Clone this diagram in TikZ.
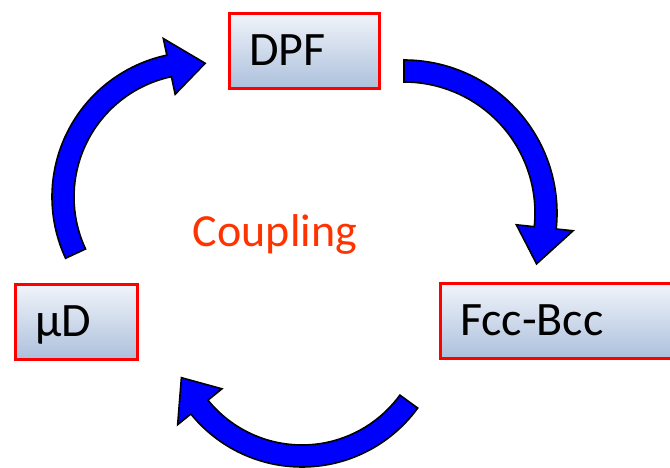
\documentclass[tikz,border=0pt]{standalone}
\usepackage{fontspec}
\setmainfont{Carlito}
\usetikzlibrary{calc}

\definecolor{boxred}{RGB}{255,0,0}
\definecolor{boxtop}{RGB}{241,244,250}
\definecolor{boxbottom}{RGB}{172,192,220}
\definecolor{arrowblue}{RGB}{0,0,255}
\definecolor{couplingred}{RGB}{255,51,0}

% fat circular arrow: centre, outer radius, start angle, end angle, tip angle
\newcommand{\cyclearrow}[5]{%
  \filldraw[flowarrow] ($(#1)+(#3:#2)$) arc[start angle=#3, end angle=#4, radius=#2]
    -- ($(#1)+(#4:{#2+17})$) -- ($(#1)+(#5:{#2-11})$) -- ($(#1)+(#4:{#2-40})$)
    -- ($(#1)+(#4:{#2-22})$) arc[start angle=#4, end angle=#3, radius={#2-22}] -- cycle;}

\begin{document}
\begin{tikzpicture}[x=1pt,y=1pt,
    phase/.style={draw=boxred,line width=3pt,top color=boxtop,bottom color=boxbottom,
      anchor=west,align=left,minimum height=75pt,inner xsep=20pt,
      text height=30pt,text depth=0pt,font=\fontsize{48}{52}\selectfont},
    flowarrow/.style={fill=arrowblue,draw=black,line width=1.6pt,line join=miter}]
    \useasboundingbox (0,0) rectangle (670,468);

    \node[phase,text width=110pt] (dpf) at (227.5,417) {DPF};
    \node[phase,text width=200pt] (fccbcc) at (438.5,147) {Fcc-Bcc};
    \node[phase,text width=82pt] (mud) at (13.5,146) {μD};
    \node[anchor=base,text=couplingred,font=\fontsize{46}{50}\selectfont] (coupling) at (275,221) {Coupling};

    \coordinate (turnA) at (404,255);
    \coordinate (turnB) at (302,144);
    \coordinate (turnC) at (197,271);

    \cyclearrow{turnA}{153}{90}{-6}{-21}
    \cyclearrow{turnB}{143}{-36}{-141}{-156}
    \cyclearrow{turnC}{145}{205}{102}{86.5}
\end{tikzpicture}
\end{document}
